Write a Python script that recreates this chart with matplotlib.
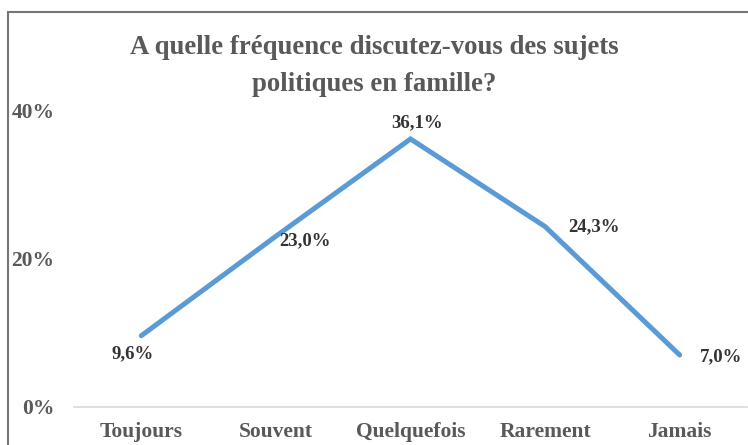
import matplotlib
matplotlib.use("Agg")
import matplotlib.pyplot as plt
from matplotlib.patches import Rectangle
from matplotlib.ticker import FuncFormatter

categories = ["Toujours", "Souvent", "Quelquefois", "Rarement", "Jamais"]
values = [9.6, 23.0, 36.1, 24.3, 7.0]
y_ticks = [0, 20, 40]

# where each data label sits relative to its point (points offset)
label_offsets = [(-6, -13), (21, -3), (5, 12), (35, 0), (30, -1)]

plt.rcParams["font.family"] = ["Liberation Serif", "DejaVu Serif"]
plt.rcParams["font.weight"] = "bold"

fig = plt.figure(figsize=(7.48, 4.45), dpi=100)
ax = fig.add_axes([74 / 748, 1 - 407 / 445, (747 - 74) / 748, (407 - 110) / 445])

x = list(range(len(categories)))
ax.plot(x, values, color="#5B9BD5", linewidth=3.6, solid_capstyle="round",
        solid_joinstyle="miter")

for xi, v, off in zip(x, values, label_offsets):
    ax.annotate(f"{v:.1f}%".replace(".", ","), (xi, v), xytext=off,
                textcoords="offset points", ha="center", va="center",
                fontsize=13.5, fontweight="bold", color="#333333")

ax.set_xlim(-0.5, len(categories) - 0.5)
ax.set_ylim(0, 40)
ax.set_yticks(y_ticks)
ax.yaxis.set_major_formatter(FuncFormatter(lambda v, p: f"{v:.0f}%"))
ax.set_xticks(x)
ax.set_xticklabels(categories)

for s in ["top", "right", "left"]:
    ax.spines[s].set_visible(False)
ax.spines["bottom"].set_color("#d9d9d9")
ax.spines["bottom"].set_linewidth(1.2)
ax.tick_params(axis="both", length=0, colors="#595959", labelsize=15.5)
ax.tick_params(axis="y", pad=14)
ax.tick_params(axis="x", pad=11)
for lbl in ax.get_xticklabels() + ax.get_yticklabels():
    lbl.set_fontweight("bold")

fig.text(0.50, 1 - 66 / 445, "A quelle fréquence discutez-vous des sujets\npolitiques en famille?",
         ha="center", va="center", fontsize=19.3, fontweight="bold",
         color="#595959", linespacing=1.6)

# chart area border
fig.patches.append(Rectangle((8 / 748, -0.1), 1.2, 1 - 12 / 445 + 0.1,
                             transform=fig.transFigure, fill=False,
                             edgecolor="#767676", linewidth=1.5))

fig.savefig("out.png", dpi=100)
